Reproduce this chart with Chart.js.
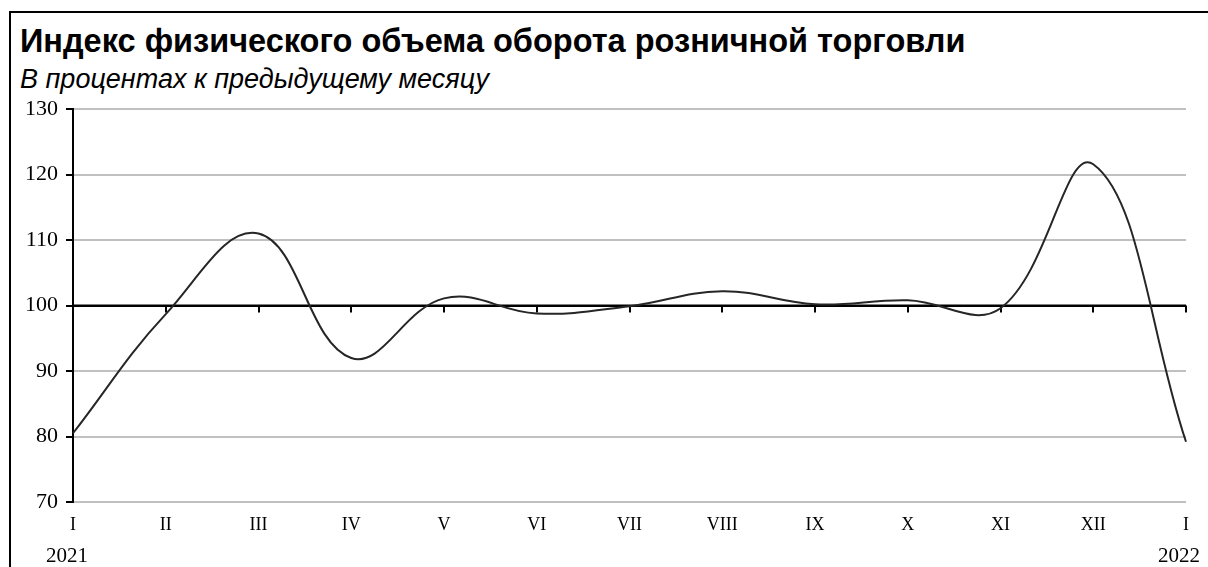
<!DOCTYPE html>
<html>
<head>
<meta charset="utf-8">
<script src="https://cdn.jsdelivr.net/npm/chart.js@4/dist/chart.umd.min.js"></script>
<style>
  html, body { margin: 0; padding: 0; background: #fff; }
  body { width: 1208px; height: 567px; position: relative; overflow: hidden; }
  .frame { position: absolute; left: 9px; top: 11px; width: 1200px; height: 600px;
           border-left: 2px solid #000; border-top: 2px solid #000; border-right: 2px solid #000; }
  .title { position: absolute; left: 20px; top: 23px; line-height: 32px; font: bold 32.5px "Liberation Sans", Arial, sans-serif; color: #000; white-space: nowrap; }
  .subtitle { position: absolute; left: 20px; top: 64px; line-height: 27px; font: italic 27px "Liberation Sans", Arial, sans-serif; color: #000; white-space: nowrap; }
  .wrap { position: absolute; left: 11px; top: 88px; width: 1190px; height: 479px; }
</style>
</head>
<body>
<div class="frame"></div>
<div class="title">Индекс физического объема оборота розничной торговли</div>
<div class="subtitle">В процентах к предыдущему месяцу</div>
<div class="wrap"><canvas id="chart"></canvas></div>
<script>
// месяцы (римские), значения индекса, годы под осью
var months = ['I', 'II', 'III', 'IV', 'V', 'VI', 'VII', 'VIII', 'IX', 'X', 'XI', 'XII', 'I'];
var index = [80.5, 98.7, 111.0, 92.0, 101.1, 98.8, 99.9, 102.2, 100.2, 100.8, 99.6, 121.6, 79.2];
var years = ['2021', '2022'];
var yTicks = [70, 80, 90, 100, 110, 120, 130];

var serif = '"Liberation Serif", "Times New Roman", serif';

// черная линия на уровне 100 с засечками по месяцам
var baseLine = {
    id: 'baseLine',
    beforeDatasetsDraw: function (chart) {
        var ctx = chart.ctx;
        var x = chart.scales.x, y = chart.scales.y;
        var yy = y.getPixelForValue(100);
        ctx.save();
        ctx.strokeStyle = '#000';
        ctx.lineWidth = 2;
        ctx.beginPath();
        ctx.moveTo(x.left, yy);
        ctx.lineTo(x.right, yy);
        for (var i = 1; i < months.length; i++) {
            var xx = Math.round(x.getPixelForValue(i));
            ctx.moveTo(xx, yy);
            ctx.lineTo(xx, yy + 7);
        }
        ctx.stroke();
        ctx.restore();
    },
    afterDraw: function (chart) {
        var ctx = chart.ctx;
        var x = chart.scales.x;
        ctx.save();
        ctx.fillStyle = '#000';
        ctx.font = '21px ' + serif;
        ctx.textBaseline = 'alphabetic';
        ctx.textAlign = 'center';
        ctx.fillText(years[0], x.getPixelForValue(0) - 6, x.top + 60);
        ctx.textAlign = 'right';
        ctx.fillText(years[1], chart.width - 1, x.top + 60);
        ctx.restore();
    }
};

new Chart(document.getElementById('chart'), {
    type: 'line',
    data: {
        labels: months,
        datasets: [{
            data: index,
            borderColor: '#262626',
            borderWidth: 2,
            pointRadius: 0,
            tension: 0.4,
            fill: false
        }]
    },
    options: {
        responsive: true,
        maintainAspectRatio: false,
        animation: false,
        layout: { padding: { left: 0, right: 11, top: 16, bottom: 0 } },
        plugins: { legend: { display: false }, tooltip: { enabled: false } },
        scales: {
            x: {
                offset: false,
                grid: { display: false, drawTicks: false },
                border: { display: false },
                ticks: { color: '#000', font: { family: serif, size: 18 }, padding: 12, maxRotation: 0, autoSkip: false },
                afterFit: function (s) { s.height = 65; }
            },
            y: {
                min: 70,
                max: 130,
                afterBuildTicks: function (s) { s.ticks = yTicks.map(function (v) { return { value: v }; }); },
                grid: {
                    color: function (c) { return c.tick && c.tick.value === 100 ? '#000' : '#c0c0c0'; },
                    lineWidth: 2,
                    tickColor: '#000',
                    tickLength: 7
                },
                border: { display: true, color: '#000', width: 2 },
                ticks: { color: '#000', font: { family: serif, size: 22 }, padding: 8 },
                afterFit: function (s) { s.width = 62; }
            }
        }
    },
    plugins: [baseLine]
});
</script>
</body>
</html>
